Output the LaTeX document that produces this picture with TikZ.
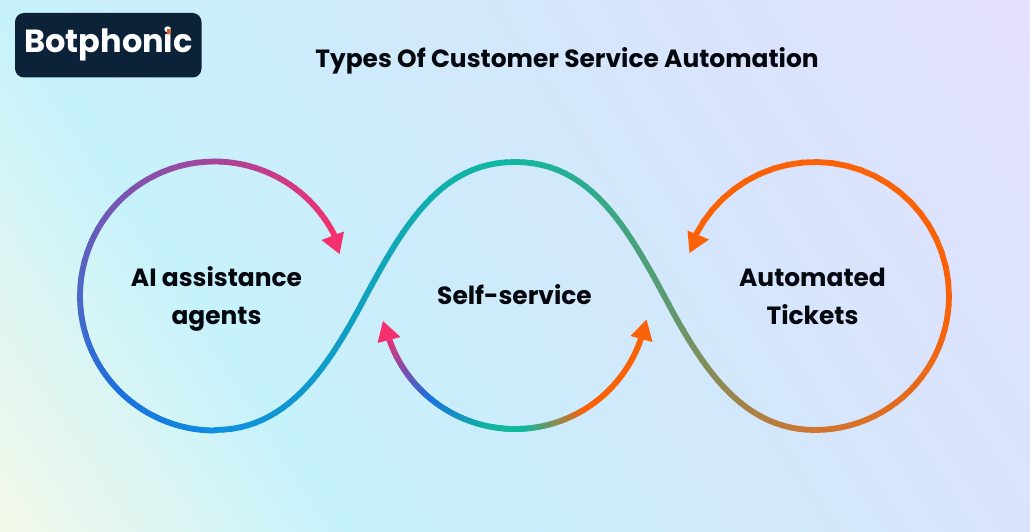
\documentclass[tikz,border=0pt]{standalone}
\usepackage{fontspec}
\setmainfont{Poppins}
\definecolor{bgA}{HTML}{F3F9EA}
\definecolor{bgB}{HTML}{C6F2FB}
\definecolor{bgC}{HTML}{CFEAFB}
\definecolor{bgD}{HTML}{D9E4FC}
\definecolor{bgE}{HTML}{E4E0FE}
\pgfdeclarehorizontalshading{bgshade}{100bp}{
 color(0bp)=(bgA); color(26bp)=(bgA); color(38bp)=(bgB); color(50bp)=(bgC);
 color(62bp)=(bgD); color(74bp)=(bgE); color(100bp)=(bgE)}
\definecolor{logoBg}{HTML}{0C2238}
\definecolor{logoDot}{HTML}{E0602A}
\definecolor{ink}{HTML}{05070F}
\definecolor{cPink}{HTML}{F5306F}
\definecolor{cPurple}{HTML}{A5459C}
\definecolor{cIndigo}{HTML}{4A68C8}
\definecolor{cBlue}{HTML}{0F8FE0}
\definecolor{cBlueB}{HTML}{1A70E0}
\definecolor{cViolet}{HTML}{7A50B0}
\definecolor{cCyan}{HTML}{11A2C0}
\definecolor{cTeal}{HTML}{10B8A0}
\definecolor{cGreen}{HTML}{5C9A70}
\definecolor{cBrown}{HTML}{D07530}
\definecolor{cOrange}{HTML}{FB6208}
\tikzset{
  gstroke/.style={line width=5.8pt,line cap=round},
  label/.style={font=\bfseries\fontsize{24.9}{28}\selectfont,text=ink,anchor=base,inner sep=0pt},
}
\newcommand\gN{24}
% cx cy r a1 a2 colA colB
\newcommand\garc[7]{%
 \foreach \i in {1,...,\gN}{%
  \pgfmathsetmacro\ta{#4+(#5-#4)*(\i-1)/\gN}%
  \pgfmathsetmacro\tb{#4+(#5-#4)*\i/\gN}%
  \pgfmathsetmacro\pc{100*(\i-0.5)/\gN}%
  \draw[gstroke,draw={#7!\pc!#6}] ({#1+#3*cos(\ta)},{#2+#3*sin(\ta)}) -- ({#1+#3*cos(\tb)},{#2+#3*sin(\tb)});
 }}
% x0 y0 x1 y1 x2 y2 x3 y3 + colours in \gcA \gcB
\newcommand\gbez[8]{%
 \foreach \i in {1,...,\gN}{%
  \pgfmathsetmacro\ta{(\i-1)/\gN}%
  \pgfmathsetmacro\tb{\i/\gN}%
  \pgfmathsetmacro\pc{100*(\i-0.5)/\gN}%
  \pgfmathsetmacro\xa{(1-\ta)^3*#1+3*(1-\ta)^2*\ta*#3+3*(1-\ta)*\ta^2*#5+\ta^3*#7}%
  \pgfmathsetmacro\ya{(1-\ta)^3*#2+3*(1-\ta)^2*\ta*#4+3*(1-\ta)*\ta^2*#6+\ta^3*#8}%
  \pgfmathsetmacro\xb{(1-\tb)^3*#1+3*(1-\tb)^2*\tb*#3+3*(1-\tb)*\tb^2*#5+\tb^3*#7}%
  \pgfmathsetmacro\yb{(1-\tb)^3*#2+3*(1-\tb)^2*\tb*#4+3*(1-\tb)*\tb^2*#6+\tb^3*#8}%
  \draw[gstroke,draw={\gcB!\pc!\gcA}] (\xa,\ya) -- (\xb,\yb);
 }}
\begin{document}
\begin{tikzpicture}[x=1pt,y=-1pt]
\useasboundingbox (0,0) rectangle (1030,532);
\begin{scope}
\clip (0,0) rectangle (1030,532);
\shade[shading=bgshade,shading angle=33] (-85,-334) rectangle (1115,866);
\end{scope}
% logo
\fill[logoBg,rounded corners=9pt] (15,13) rectangle (201.5,77.5);
\node[font=\bfseries\fontsize{32}{38}\selectfont,text=white,anchor=base,inner sep=0pt] (logo) at (108.5,52.5) {Botphonic};
\fill[logoDot] (166.8,29.2) rectangle (171.2,34);
% title
\node[label] (title) at (567,67.5) {Types Of Customer Service Automation};
% left loop
\garc{214.5}{296}{134.5}{90}{135}{cBlue}{cBlueB}
\garc{214.5}{296}{134.5}{135}{180}{cBlueB}{cIndigo}
\garc{214.5}{296}{134.5}{180}{270}{cIndigo}{cPurple}
\garc{214.5}{296}{134.5}{270}{333}{cPurple}{cPink}
\fill[cPink] (339.5,254) -- (321.5,240) -- (344,231.5) -- cycle;
% left S
\def\gcA{cBlue}\def\gcB{cCyan}
\gbez{215}{430}{285}{430}{325}{372}{361}{305}
\def\gcA{cCyan}\def\gcB{cTeal}
\gbez{361}{305}{403}{226}{440}{162}{515}{162}
% right S
\def\gcA{cTeal}\def\gcB{cGreen}
\gbez{515}{162}{590}{162}{627}{226}{669}{305}
\def\gcA{cGreen}\def\gcB{cBrown}
\gbez{669}{305}{705}{372}{745}{430}{815}{430}
% right loop
\garc{815}{296}{134}{90}{0}{cBrown}{cOrange}
\garc{815}{296}{134}{0}{-152.5}{cOrange}{cOrange}
\fill[cOrange] (689.5,253) -- (687.5,230.5) -- (709,239.5) -- cycle;
% lower arc
\garc{515}{296}{133}{162}{144}{cPink}{cViolet}
\garc{515}{296}{133}{144}{129}{cViolet}{cBlueB}
\garc{515}{296}{133}{129}{100}{cBlueB}{cTeal}
\garc{515}{296}{133}{100}{85}{cTeal}{cTeal}
\garc{515}{296}{133}{85}{58}{cTeal}{cOrange}
\garc{515}{296}{133}{58}{18}{cOrange}{cOrange}
\fill[cPink] (383,321) -- (377.5,343) -- (400.5,337) -- cycle;
\fill[cOrange] (646.5,319.5) -- (630.5,336) -- (652.5,342) -- cycle;
% labels
\node[label] (ai) at (216.5,286) {AI assistance};
\node[label] (agents) at (216.5,324) {agents};
\node[label] (self) at (514.5,304) {Self-service};
\node[label] (auto) at (812.5,286) {Automated};
\node[label] (tickets) at (812.5,324) {Tickets};
\end{tikzpicture}
\end{document}
